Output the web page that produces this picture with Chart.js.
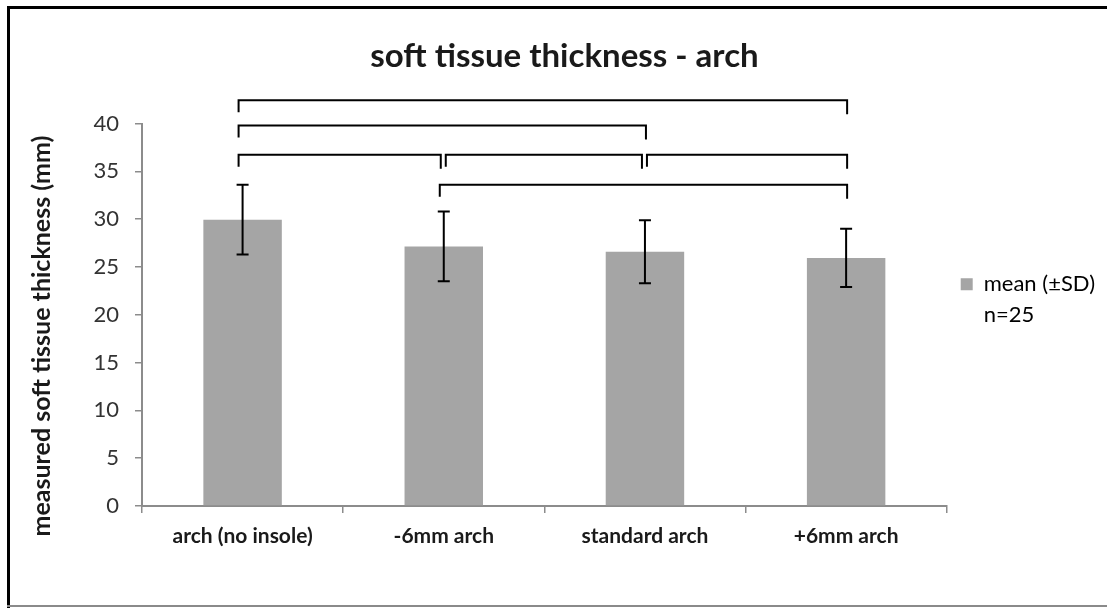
<!DOCTYPE html>
<html>
<head>
<meta charset="utf-8">
<script src="https://cdn.jsdelivr.net/npm/chart.js@4.4.1/dist/chart.umd.min.js"></script>
<style>
  html, body { margin: 0; padding: 0; background: #fff; }
  #wrap { width: 1107px; height: 608px; position: relative; }
</style>
</head>
<body>
<div id="wrap"><canvas id="c" width="1107" height="608"></canvas></div>
<script>
// ---- data ----
const chartTitle = 'soft tissue thickness - arch';
const yAxisTitle = 'measured soft tissue thickness (mm)';
const categories = ['arch (no insole)', '-6mm arch', 'standard arch', '+6mm arch'];
const means = [29.95, 27.15, 26.6, 25.95];
const sds = [3.65, 3.65, 3.3, 3.05];
const legendLabel = 'mean (±SD)';
const legendNote = 'n=25';
const yTicks = [0, 5, 10, 15, 20, 25, 30, 35, 40];
// significance brackets: [from category index, to category index, level (mm)]
const bracketFrom = [0, 0, 0, 1, 2, 1];
const bracketTo   = [3, 2, 1, 2, 3, 3];
const bracketLevel = [42.45, 39.8, 36.75, 36.75, 36.75, 33.6];

const barColor = '#a5a5a5';
const axisColor = '#8c8c8c';
const textColor = '#1a1a1a';

const errorBarPlugin = {
  id: 'errorBars',
  afterDatasetsDraw(chart) {
    const ctx = chart.ctx, y = chart.scales.y;
    const meta = chart.getDatasetMeta(0);
    ctx.save();
    ctx.strokeStyle = '#000';
    ctx.lineWidth = 2;
    meta.data.forEach((bar, i) => {
      const x = bar.x;
      const top = y.getPixelForValue(means[i] + sds[i]);
      const bot = y.getPixelForValue(means[i] - sds[i]);
      ctx.beginPath();
      ctx.moveTo(x, top); ctx.lineTo(x, bot);
      ctx.moveTo(x - 6, top); ctx.lineTo(x + 6, top);
      ctx.moveTo(x - 6, bot); ctx.lineTo(x + 6, bot);
      ctx.stroke();
    });
    ctx.restore();
  }
};

const bracketPlugin = {
  id: 'brackets',
  afterDatasetsDraw(chart) {
    const ctx = chart.ctx, x = chart.scales.x, y = chart.scales.y;
    ctx.save();
    ctx.strokeStyle = '#000';
    ctx.lineWidth = 2;
    ctx.lineCap = 'butt';
    for (let k = 0; k < bracketFrom.length; k++) {
      const lvl = bracketLevel[k];
      const a = bracketFrom[k], b = bracketTo[k];
      const sharedLeft = bracketTo.some((t, j) => j !== k && t === a && bracketLevel[j] === lvl);
      const sharedRight = bracketFrom.some((f, j) => j !== k && f === b && bracketLevel[j] === lvl);
      const x1 = x.getPixelForValue(a) + (sharedLeft ? 2 : -4);
      const x2 = x.getPixelForValue(b) + (sharedRight ? -3 : 1);
      const py = y.getPixelForValue(lvl);
      ctx.beginPath();
      ctx.moveTo(x1, py + 12); ctx.lineTo(x1, py); ctx.lineTo(x2, py); ctx.lineTo(x2, py + 14);
      ctx.stroke();
    }
    ctx.restore();
  }
};

const framePlugin = {
  id: 'frame',
  beforeDraw(chart) {
    const ctx = chart.ctx;
    ctx.save();
    ctx.fillStyle = '#fff';
    ctx.fillRect(0, 0, chart.width, chart.height);
    ctx.restore();
  },
  afterDraw(chart) {
    const ctx = chart.ctx;
    ctx.save();
    ctx.fillStyle = '#000';
    ctx.fillRect(7, 6, chart.width - 7, 3);
    ctx.fillRect(7, 6, 3, chart.height - 6);
    ctx.fillStyle = '#8a8a8a';
    ctx.fillRect(7, 605, chart.width - 7, 2);
    ctx.restore();
  }
};

new Chart(document.getElementById('c'), {
  type: 'bar',
  data: {
    labels: categories,
    datasets: [{
      label: legendLabel,
      data: means,
      backgroundColor: barColor,
      borderWidth: 0,
      categoryPercentage: 1.0,
      barPercentage: 0.39
    }]
  },
  options: {
    responsive: false,
    animation: false,
    devicePixelRatio: 1,
    layout: { padding: { left: 24, right: 2, top: 0, bottom: 0 } },
    plugins: {
      title: {
        display: true,
        text: chartTitle,
        color: textColor,
        font: { family: 'Lato', size: 33, weight: 'bold' },
        padding: { top: 37, bottom: 47 }
      },
      legend: {
        position: 'right',
        align: 'center',
        labels: {
          color: textColor,
          font: { family: 'Lato', size: 22, lineHeight: 1.4 },
          boxWidth: 12,
          boxHeight: 12,
          padding: 14,
          generateLabels: () => [{
            text: [legendLabel, legendNote],
            fillStyle: barColor,
            strokeStyle: barColor,
            lineWidth: 0,
            hidden: false,
            datasetIndex: 0
          }]
        }
      },
      tooltip: { enabled: false }
    },
    scales: {
      x: {
        grid: { drawOnChartArea: false, drawTicks: true, tickLength: 7, color: axisColor, lineWidth: 1.5, offset: true },
        border: { color: axisColor, width: 2 },
        ticks: { color: textColor, font: { family: 'Lato', size: 21, weight: 'bold' }, padding: 11 },
        afterFit: (axis) => { axis.height = 102; }
      },
      y: {
        min: 0, max: 40,
        afterBuildTicks: (axis) => { axis.ticks = yTicks.map(v => ({ value: v })); },
        grid: { drawOnChartArea: false, drawTicks: true, tickLength: 7, color: axisColor, lineWidth: 1.5 },
        border: { color: axisColor, width: 2 },
        ticks: { color: '#333', font: { family: 'Lato', size: 22 }, padding: 16 },
        title: {
          display: true,
          text: yAxisTitle + '\u00a0\u00a0\u00a0\u00a0\u00a0\u00a0\u00a0',
          color: textColor,
          font: { family: 'Lato', size: 25, weight: 'bold' },
          padding: { top: 3, bottom: 0 }
        },
        afterFit: (axis) => { axis.width = 118; }
      }
    }
  },
  plugins: [framePlugin, errorBarPlugin, bracketPlugin]
});
</script>
</body>
</html>
